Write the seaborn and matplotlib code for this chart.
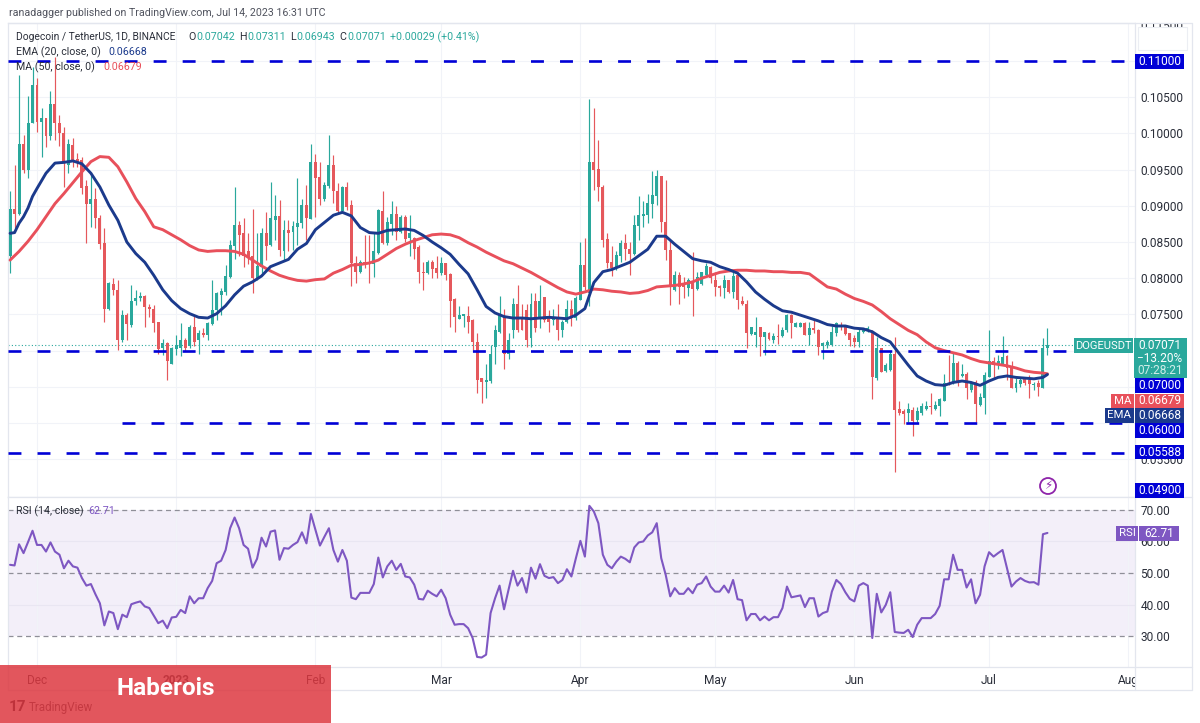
import numpy as np
import pandas as pd
import seaborn as sns
import matplotlib
matplotlib.use("Agg")
import matplotlib.pyplot as plt
from matplotlib.patches import Rectangle, Circle
from matplotlib.lines import Line2D

# Prices in units of 0.0001 USDT, one value per daily candle from 25 Nov 2022
opens = [830,896,889,986,949,1014,1067,1016,1021,996,
1041,1014,1000,956,984,965,963,927,902,910,
883,848,757,792,784,714,749,735,769,772,
775,760,758,739,704,710,682,702,703,715,
706,733,715,725,722,737,756,777,781,802,
844,873,862,838,830,800,816,863,846,881,
886,838,866,864,871,876,901,882,961,940,
909,927,957,921,893,926,901,821,808,823,
822,820,835,893,848,875,889,864,884,855,
855,843,809,807,823,814,807,821,806,771,
744,748,748,742,712,662,657,658,705,726,
747,696,728,765,744,756,717,768,747,774,
747,742,747,729,739,757,745,770,818,779,
960,951,926,854,823,814,831,848,841,834,
872,886,887,903,913,941,878,839,784,804,
793,787,795,785,792,804,816,798,789,786,
797,781,804,769,765,723,722,732,719,725,
714,720,720,728,749,733,733,738,722,731,
729,706,708,708,725,736,734,724,718,712,
726,728,726,662,703,672,673,696,619,616,
614,618,604,614,620,624,620,624,631,655,
655,683,665,668,645,657,625,634,664,685,
680,682,692,676,649,654,662,659,652,655,
649,704.2]
highs = [920,956,1081,998,1051,1092,1076,1035,1021,1058,
1105,1025,1009,992,993,973,968,936,943,924,
887,869,795,800,798,756,752,791,784,781,
777,764,763,740,716,712,705,722,738,717,
735,749,728,731,740,798,781,786,818,853,
926,879,883,862,896,862,869,892,933,915,
908,880,880,879,938,910,929,986,972,960,
933,998,970,931,927,933,908,830,825,860,
860,864,896,920,885,906,900,887,887,887,
857,846,823,825,825,831,829,821,807,772,
762,751,761,743,724,662,682,708,735,776,
758,724,772,790,765,765,779,780,791,774,
756,757,764,742,770,770,775,850,855,1048,
1035,991,929,862,844,838,853,861,850,887,
914,906,917,948,950,941,935,851,810,809,
801,800,836,809,809,821,817,808,791,804,
798,811,805,775,770,733,747,732,726,726,
724,737,732,751,751,740,740,740,740,742,
730,712,715,734,740,740,735,725,722,731,
731,734,728,719,704,683,699,719,630,620,
628,622,622,627,630,642,630,634,668,694,
697,685,682,670,657,660,642,671,729,691,
694,720,694,686,662,663,663,666,657,660,
718,731.1]
lows = [807,869,887,945,938,1014,1002,968,981,991,
991,982,926,945,954,954,917,848,871,869,
841,740,756,777,701,712,715,733,763,768,
733,747,726,696,694,659,681,694,693,699,
703,706,696,719,714,735,742,749,777,800,
827,830,816,820,779,798,807,825,844,853,
830,825,837,839,846,869,853,882,885,901,
906,924,904,890,891,894,789,793,807,814,
794,801,834,847,846,860,853,862,850,830,
827,793,784,806,800,800,804,797,733,726,
743,732,724,701,641,627,634,655,682,724,
675,689,717,726,728,705,705,726,731,740,
726,735,715,719,738,734,742,770,784,761,
922,906,843,814,803,811,823,825,804,832,
853,871,876,883,901,864,825,763,783,765,
772,775,748,784,791,802,794,775,775,772,
779,772,757,763,703,722,705,692,694,715,
711,709,719,726,718,732,732,721,708,725,
694,688,703,707,720,729,721,706,705,705,
724,726,633,660,670,671,672,533,611,599,
602,582,602,611,618,613,618,609,630,653,
654,651,663,633,643,602,624,613,663,662,
675,680,659,648,643,650,653,634,645,637,
648,694.3]
closes = [896,889,986,949,1014,1067,1016,1021,996,1041,
1014,1000,959,985,963,961,924,902,910,883,
847,757,794,784,714,749,737,769,772,775,
760,757,738,702,710,685,703,708,715,703,
733,712,724,721,738,756,779,783,803,846,
873,860,830,829,800,817,863,844,883,886,
839,867,863,872,876,901,883,961,939,909,
929,957,920,893,926,899,821,809,823,820,
820,837,894,848,878,889,864,884,854,862,
841,809,807,823,813,807,821,804,768,746,
749,750,739,712,660,657,660,695,728,749,
696,715,765,728,728,715,765,731,768,742,
740,747,728,740,757,745,772,818,788,960,
950,926,853,821,814,832,849,840,834,874,
887,889,904,915,941,878,839,788,804,788,
788,798,785,802,808,817,800,788,787,797,
781,803,770,764,724,732,726,719,726,716,
720,719,729,749,738,738,738,722,731,728,
705,710,712,726,738,732,723,715,712,726,
729,731,664,703,671,680,696,618,614,613,
619,603,616,624,624,622,625,633,655,654,
683,657,668,648,655,626,636,666,685,680,
685,691,676,649,655,659,655,654,654,650,
704,707.1]

ema_days = [0,1,2,3,4,5,6] + list(range(8, 232, 2)) + [231]
ema_vals = [862,863,876,885,897,913,924,
945,959,960,962,958,945,926,901,880,850,
834,822,804,784,769,758,751,746,745,751,
762,777,789,795,803,816,821,826,840,
848,867,877,887,891,886,870,863,862,866,867,868,866,859,850,842,833,819,806,784,761,752,747,745,745,744,745,746,745,744,749,
758,794,809,812,817,822,831,840,858,858,847,837,827,824,822,816,812,807,795,781,771,762,755,753,749,745,741,736,734,734,731,
730,726,718,712,696,680,665,658,653,652,656,658,656,652,658,663,665,663,662,661,663,667]

ma_days = list(range(0, 232, 2)) + [231]
ma_vals = [825,837,851,867,885,903,917,932,947,961,968,967,954,933,910,892,871,867,860,853,845,839,837,838,838,837,833,825,817,810,804,800,797,
796,798,799,807,812,818,819,821,825,833,841,847,852,856,860,861,860,856,849,843,836,830,824,820,814,808,801,794,787,781,778,
781,785,784,782,781,779,780,783,788,789,790,792,795,800,804,808,810,811,811,810,810,809,809,808,808,806,797,788,785,778,772,
768,763,754,744,736,728,722,712,704,700,697,694,689,685,683,681,679,676,672,670,669,668]

rsi_vals = [52.6,52.4,59.1,56.3,59.8,63.4,58.9,58.9,56.8,59.7,
56.8,55.8,51.5,53.9,52.1,51.7,48.4,46.0,46.5,43.3,
40.4,33.4,37.8,37.3,32.2,36.8,36.0,40.1,40.6,41.0,
39.4,38.9,36.5,34.1,34.9,32.5,35.9,36.1,38.3,37.3,
42.6,40.4,42.0,42.0,45.2,47.5,53.1,53.9,57.3,64.2,
67.6,64.2,58.9,57.7,51.7,54.5,61.2,58.4,63.1,63.5,
54.2,57.9,57.7,58.9,59.8,62.9,59.4,68.7,63.7,58.7,
61.5,64.2,57.3,53.6,57.3,53.9,42.2,41.7,43.7,43.7,
43.7,46.5,54.9,48.6,52.1,53.9,51.0,52.9,48.9,48.6,
46.3,41.8,41.6,44.4,43.4,42.6,44.7,42.0,36.8,33.6,
33.8,33.8,32.5,29.4,23.4,23.2,24.1,37.3,42.0,46.0,
38.5,44.7,50.7,46.0,48.4,43.8,51.7,48.2,52.8,49.1,
48.4,48.7,46.8,47.8,51.2,48.9,54.7,60.2,55.2,71.3,
69.5,65.8,55.8,52.6,51.5,53.6,55.2,54.5,53.4,58.1,
59.7,60.0,61.9,62.9,65.8,54.7,49.4,42.6,45.2,43.4,
43.4,45.2,43.6,46.3,46.8,48.9,45.7,44.1,44.1,46.0,
43.8,47.8,41.7,41.4,35.0,37.0,37.0,35.0,36.2,35.0,
36.0,36.0,38.9,45.7,42.3,42.6,42.9,39.2,42.0,42.0,
36.2,37.3,37.8,44.1,47.8,46.5,43.9,41.8,41.0,46.0,
46.8,46.0,29.4,43.4,37.5,39.9,43.9,31.3,31.1,31.0,
32.0,29.7,33.6,35.7,35.7,35.7,37.0,39.6,48.0,48.0,
55.8,51.0,51.0,45.4,48.0,40.4,43.1,52.1,56.6,55.2,
56.3,57.3,51.5,45.7,47.3,48.4,47.5,47.0,47.1,46.3,
62.3,62.7]

month_days = [6, 37, 68, 96, 127, 157, 188, 218, 249]
month_labels = ["Dec", "2023", "Feb", "Mar", "Apr", "May", "Jun", "Jul", "Aug"]
price_ticks = [0.115, 0.105, 0.10, 0.095, 0.09, 0.085, 0.08, 0.075, 0.055]
price_grid = [0.11, 0.105, 0.10, 0.095, 0.09, 0.085, 0.08, 0.075, 0.07, 0.065, 0.06, 0.055]
rsi_ticks = [70, 60, 50, 40, 30]
levels = [(0.11, -0.46), (0.07, -0.46), (0.06, 25.0), (0.05588, -0.46)]
last_close = 0.07071

UP, DOWN = "#2aa89c", "#e5585c"
NAVY, RED = "#1b3a8c", "#e8505b"
BLUE = "#0000d6"
PURPLE = "#7e57c2"
GRID = "#f1f3f8"
FRAME = "#e3e6ee"
TXT = "#2a2e39"

sns.set_theme(style="white")
plt.rcParams["font.family"] = ["Roboto", "DejaVu Sans"]

W, H = 1200, 723
fig = plt.figure(figsize=(12, 7.23), dpi=100, facecolor="white")


def box(x0, y0, x1, y1):
    return [x0 / W, 1 - y1 / H, (x1 - x0) / W, (y1 - y0) / H]


ax = fig.add_axes(box(8, 23, 1135, 497))
rx = fig.add_axes(box(8, 497, 1135, 667), sharex=ax)

df = pd.DataFrame({"o": opens, "h": highs, "l": lows, "c": closes}, dtype=float) / 1e4
df["day"] = np.arange(len(df))
colors = np.where(df.c >= df.o, UP, DOWN)

ax.vlines(month_days, 0, 1, transform=ax.get_xaxis_transform(), color=GRID, lw=0.8, zorder=0)
ax.hlines(price_grid, -1, 260, color=GRID, lw=0.8, zorder=0)
ax.vlines(df.day, df.l, df.h, colors=colors, lw=0.85, zorder=2)
ax.bar(df.day, (df.c - df.o).abs().clip(lower=0.00003), bottom=df[["o", "c"]].min(axis=1),
       width=0.66, color=colors, linewidth=0, zorder=3)

sns.lineplot(x=ma_days, y=np.array(ma_vals) / 1e4, ax=ax, color=RED, lw=2.1, zorder=4, errorbar=None)
sns.lineplot(x=ema_days, y=np.array(ema_vals) / 1e4, ax=ax, color=NAVY, lw=2.1, zorder=5, errorbar=None)

for value, start in levels:
    ax.plot([start, 251], [value, value], color=BLUE, lw=1.9, dashes=(4.9, 6.1), zorder=6, solid_capstyle="butt")
ax.plot([-0.46, 250], [last_close, last_close], color=UP, lw=0.8, ls=(0, (1, 2)), zorder=1)

ax.set_xlim(-0.46, 250.5)
ax.set_ylim(0.04978, 0.11525)
ax.yaxis.tick_right()
ax.set_yticks(price_ticks)
ax.set_yticklabels([f"{t:.5f}" for t in price_ticks], fontsize=8.6, color=TXT)
ax.tick_params(axis="y", length=0, pad=4)
ax.tick_params(axis="x", length=0, labelbottom=False)
ax.set_xlabel("")
ax.set_ylabel("")

# RSI pane
rx.axhspan(30, 70, color=PURPLE, alpha=0.09, lw=0, zorder=0)
rx.vlines(month_days, 0, 1, transform=rx.get_xaxis_transform(), color=GRID, lw=0.8, zorder=0)
for v in (40, 60):
    rx.axhline(v, color="#e9e6f2", lw=0.8, zorder=1)
for v in (30, 50, 70):
    rx.axhline(v, color="#8f8f98", lw=0.9, ls=(0, (4, 3)), zorder=1)
sns.lineplot(x=np.arange(len(rsi_vals)), y=rsi_vals, ax=rx, color=PURPLE, lw=1.5, zorder=3, errorbar=None)
rx.set_ylim(20.2, 74.1)
rx.yaxis.tick_right()
rx.set_yticks(rsi_ticks)
rx.set_yticklabels([f"{t:.2f}" for t in rsi_ticks], fontsize=8.6, color=TXT)
rx.set_xticks(month_days)
rx.set_xticklabels(month_labels, fontsize=8.6, color=TXT)
rx.get_xticklabels()[1].set_fontweight("bold")
rx.tick_params(axis="both", length=0)
rx.tick_params(axis="y", pad=4)
rx.tick_params(axis="x", pad=5)
rx.set_xlabel("")
rx.set_ylabel("")

for a in (ax, rx):
    for side in ("top", "left", "bottom", "right"):
        a.spines[side].set_visible(True)
        a.spines[side].set_color(FRAME)
        a.spines[side].set_linewidth(0.9)


def T(x, y, s, color=TXT, size=7.7, **kw):
    kw.setdefault("va", "center")
    return fig.text(x / W, 1 - y / H, s, color=color, fontsize=size, zorder=kw.pop("zorder", 8), **kw)


def R(x0, y0, x1, y1, color, alpha=1.0, zorder=7, edge="none"):
    fig.add_artist(Rectangle((x0 / W, 1 - y1 / H), (x1 - x0) / W, (y1 - y0) / H, transform=fig.transFigure,
                             facecolor=color, edgecolor=edge, alpha=alpha, lw=0.8, zorder=zorder))


def L(x0, y0, x1, y1):
    fig.add_artist(Line2D([x0 / W, x1 / W], [1 - y0 / H, 1 - y1 / H], color=FRAME, lw=0.9, zorder=6))


# frame around the right axis and time strip
R(1135.5, 668, 1190, 689, "white", zorder=5)
R(1136, 5, 1191, 22.6, "white", zorder=5)
R(1138, 27, 1187, 50, "white", zorder=5, edge="#eceef3")
L(8, 690, 1192, 690)
L(1192, 23, 1192, 690)
L(8, 23, 1192, 23)
L(8, 667, 8, 690)
L(1135, 667, 1135, 690)
L(1135, 497, 1192, 497)
L(1135, 667, 1192, 667)

# header and legends
T(9, 13, "ranadagger published on TradingView.com, Jul 14, 2023 16:31 UTC", color="#50535e", size=7.65)
T(16, 37, "Dogecoin / TetherUS, 1D, BINANCE", size=7.35)
for x, s, c in [(188, "O", TXT), (196, "0.07042", UP), (239, "H", TXT), (247, "0.07311", UP),
                (290, "L", TXT), (296, "0.06943", UP), (339, "C", TXT), (347, "0.07071", UP),
                (390, "+0.00029 (+0.41%)", UP)]:
    T(x, 37, s, color=c)
T(16, 52, "EMA (20, close, 0)")
T(108, 52, "0.06668", color=NAVY)
T(16, 67, "MA (50, close, 0)")
T(103, 67, "0.06679", color=RED)
T(16, 511, "RSI (14, close)")
T(88, 511, "62.71", color=PURPLE)

# price labels on the right
for y0, y1, s, c in [(54, 69, "0.11000", BLUE), (378, 393, "0.07000", BLUE), (394, 408, "0.06679", RED),
                     (408, 423, "0.06668", NAVY), (423, 438, "0.06000", BLUE), (445, 459, "0.05588", BLUE),
                     (483, 498, "0.04900", BLUE)]:
    R(1135, y0, 1184, y1, c)
    T(1160, (y0 + y1) / 2, s, color="white", size=8.6, ha="center")
R(1134, 338, 1187, 378, UP)
T(1160, 345, "0.07071", color="white", size=8.6, ha="center")
T(1160, 358, "\u221213.20%", color="white", size=8.6, ha="center")
T(1160, 371, "07:28:21", color="#cfeee9", size=8.6, ha="center")
R(1074, 338, 1133, 353, UP)
T(1103.5, 345.5, "DOGEUSDT", color="white", size=8.0, ha="center")
R(1111, 394, 1134, 408, RED)
T(1122.5, 401, "MA", color="white", size=8.2, ha="center")
R(1105, 408, 1134, 423, NAVY)
T(1119.5, 415.5, "EMA", color="white", size=8.2, ha="center")
R(1116, 526, 1138, 541, PURPLE)
R(1139, 526, 1179, 541, PURPLE)
T(1127, 533.5, "RSI", color="white", size=8.2, ha="center")
T(1159, 533.5, "62.71", color="white", size=8.6, ha="center")

# alert mark
fig.add_artist(Circle((1048, H - 486), 8, transform=None, facecolor="white", edgecolor="#8e24aa", lw=1.3, zorder=7))
T(1048, 486, "\u26a1", color="#8e24aa", size=8.5, ha="center", family=["DejaVu Sans"])

# TradingView mark, then the red banner over it
T(9, 707, "17", color="#131722", size=11, fontweight="bold", zorder=3)
T(29, 707, "TradingView", color="#3a3d48", size=8.4, zorder=3)
R(0, 665, 331, 722.5, "#dd3840", alpha=0.85, zorder=9)
T(117, 688.5, "Haberois", color="white", size=17.5, fontweight="bold", zorder=10)

fig.savefig("out.png", dpi=100)
